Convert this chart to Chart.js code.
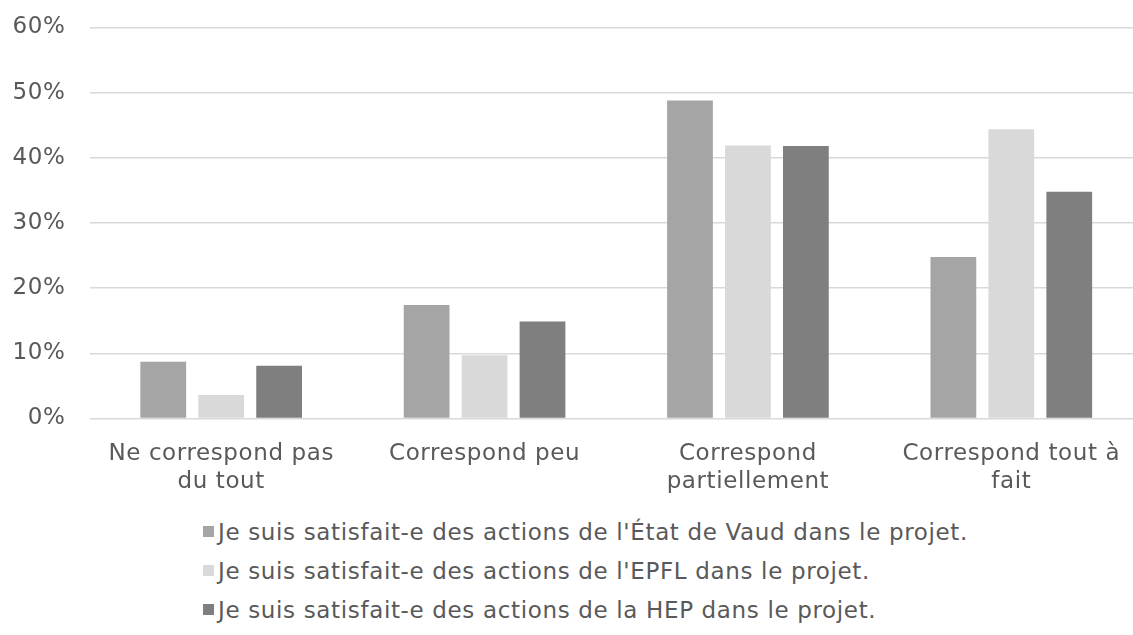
<!DOCTYPE html>
<html>
<head>
<meta charset="utf-8">
<script src="https://cdn.jsdelivr.net/npm/chart.js@4.4.0/dist/chart.umd.min.js"></script>
<style>
    html, body { margin: 0; padding: 0; background: #fff; overflow: hidden; }
    #wrap { position: absolute; left: 0; top: 0; width: 1143px; height: 500px; }
    #legend { position: absolute; left: 203px; top: 512px; font-family: 'DejaVu Sans', Verdana, sans-serif; font-size: 23px; letter-spacing: 0.65px; color: #595959; }
    .lg-item { height: 39px; display: flex; align-items: center; white-space: nowrap; }
    .lg-box { width: 11px; height: 11px; margin-right: 4px; flex: none; }
</style>
</head>
<body>
<div id="wrap"><canvas id="barChart"></canvas></div>
<div id="legend"></div>
<script>
// categories (multi-line labels as wrapped in the original)
const categories = [
    ['Ne correspond pas', 'du tout'],
    'Correspond peu',
    ['Correspond', 'partiellement'],
    ['Correspond tout à', 'fait']
];
const seriesNames = [
    "Je suis satisfait-e des actions de l'État de Vaud dans le projet.",
    "Je suis satisfait-e des actions de l'EPFL dans le projet.",
    "Je suis satisfait-e des actions de la HEP dans le projet."
];
const etatValues = [8.7, 17.4, 48.8, 24.8];
const epflValues = [3.6, 9.7, 41.9, 44.4];
const hepValues  = [8.1, 14.9, 41.8, 34.8];
const yTicks = [0, 10, 20, 30, 40, 50, 60];

const colors = ['#a5a5a5', '#d9d9d9', '#7f7f7f'];
const FONT = "'DejaVu Sans', Verdana, sans-serif";
const TEXT = '#595959';

const makeSet = (i, data) => ({
    label: seriesNames[i],
    data: data,
    backgroundColor: colors[i],
    borderWidth: 0,
    barPercentage: 0.79,
    categoryPercentage: 0.66
});

// DejaVu is a bit narrower than the Verdana of the original: widen the text slightly
const textSpacing = {
    id: 'textSpacing',
    beforeDraw(chart) { chart.ctx.letterSpacing = '0.6px'; }
};

const chart = new Chart(document.getElementById('barChart').getContext('2d'), {
    type: 'bar',
    data: {
        labels: categories,
        datasets: [
            makeSet(0, etatValues),
            makeSet(1, epflValues),
            makeSet(2, hepValues)
        ]
    },
    options: {
        responsive: true,
        maintainAspectRatio: false,
        animation: false,
        layout: { padding: { top: 27.5, left: 0, right: 0, bottom: 0 } },
        plugins: {
            legend: { display: false },
            tooltip: { enabled: false }
        },
        scales: {
            x: {
                grid: { display: false, drawTicks: false },
                border: { display: false },
                ticks: { color: TEXT, font: { family: FONT, size: 23 }, padding: 22, maxRotation: 0, autoSkip: false },
                afterFit: (scale) => { scale.height = 81.5; }
            },
            y: {
                min: yTicks[0],
                max: yTicks[yTicks.length - 1],
                afterBuildTicks: (scale) => { scale.ticks = yTicks.map(v => ({ value: v })); },
                grid: { color: '#d9d9d9', lineWidth: 1.5, drawTicks: false },
                border: { display: false },
                ticks: { color: TEXT, font: { family: FONT, size: 23 }, padding: 24, callback: v => v + '%' },
                afterFit: (scale) => {
                    scale.width = 89.5;
                    scale.paddingTop = 0;
                    scale.paddingBottom = 0;
                }
            }
        }
    },
    plugins: [textSpacing]
});

// legend as a left-aligned column, built from the datasets
const legendEl = document.getElementById('legend');
chart.data.datasets.forEach(ds => {
    const row = document.createElement('div');
    row.className = 'lg-item';
    const box = document.createElement('span');
    box.className = 'lg-box';
    box.style.background = ds.backgroundColor;
    const txt = document.createElement('span');
    txt.textContent = ds.label;
    row.appendChild(box);
    row.appendChild(txt);
    legendEl.appendChild(row);
});
</script>
</body>
</html>
